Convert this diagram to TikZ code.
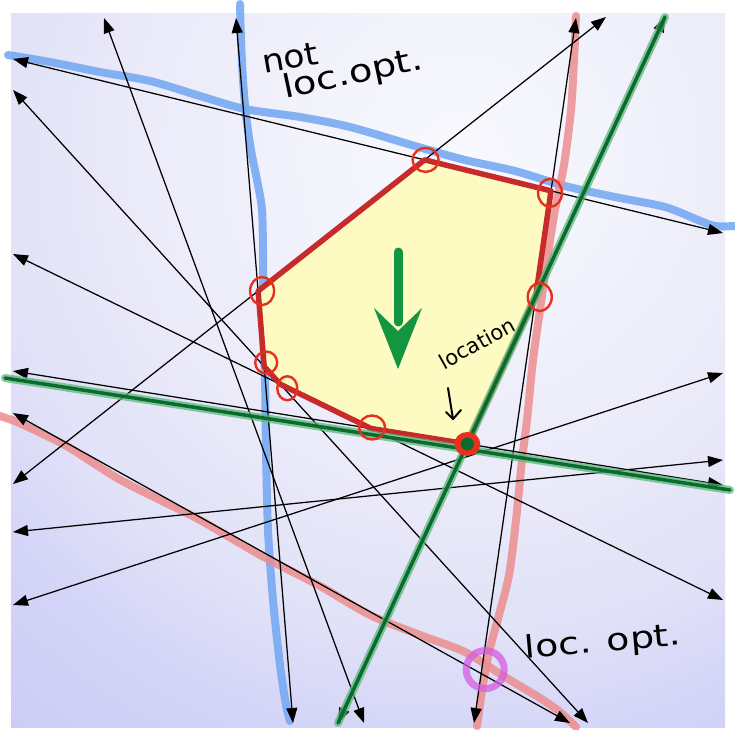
\documentclass[tikz,border=0pt]{standalone}
\usepackage{fontspec}
\newfontfamily\handfont{DejaVu Sans}
\usetikzlibrary{arrows.meta}
\definecolor{bgA}{HTML}{F8F8FE}
\definecolor{bgB}{HTML}{F3F3FC}
\definecolor{bgC}{HTML}{EAEAF9}
\definecolor{bgD}{HTML}{E1E1F8}
\definecolor{bgE}{HTML}{D6D6F8}
\definecolor{bgF}{HTML}{CACAF6}
\definecolor{polyfill}{HTML}{FDFBC2}
\definecolor{polyred}{HTML}{C62A2A}
\definecolor{circred}{HTML}{E8301E}
\definecolor{hblue}{HTML}{78AAF2}
\definecolor{hpink}{HTML}{EC8E8E}
\definecolor{gdark}{HTML}{0B6B2E}
\definecolor{glight}{HTML}{5DB87A}
\definecolor{garrow}{HTML}{13963F}
\definecolor{magc}{HTML}{D45CE0}
\pgfdeclareradialshading{bgshade}{\pgfpoint{0bp}{0bp}}{color(0bp)=(bgA); color(5bp)=(bgB); color(11bp)=(bgC); color(16bp)=(bgD); color(19bp)=(bgE); color(25bp)=(bgF); color(50bp)=(bgF)}
\begin{document}
\begin{tikzpicture}[x=1pt,y=-1pt,
  arr/.style={line width=1.25pt, black, arrows={Triangle[length=15pt,width=11pt]-Triangle[length=15pt,width=11pt]}},
  hlblue/.style={line width=8pt, hblue, opacity=0.9, line cap=round, line join=round},
  hlpink/.style={line width=8pt, hpink, opacity=0.85, line cap=round, line join=round},
  hlgreenout/.style={line width=8pt, glight, opacity=0.75, line cap=round},
  hlgreenin/.style={line width=3.5pt, gdark, line cap=round},
  polyfillstyle/.style={fill=polyfill},
  polyedge/.style={draw=polyred, line width=5.5pt, line join=round},
  vcirc/.style={draw=circred, line width=2.4pt},
  handtext/.style={inner sep=0pt, text=black}
]
\useasboundingbox (0,0) rectangle (735,729);
\fill[white] (0,0) rectangle (735,729);
\begin{scope}
  \clip (11,13) rectangle (725,727);
  \fill[bgF] (11,13) rectangle (725,727);
  \shade[shading=bgshade] (460,160) circle (750);
\end{scope}

% line end points
\coordinate (L1a) at (104,18);  \coordinate (L1b) at (364,723);
\coordinate (L2a) at (236,18);  \coordinate (L2b) at (293,723);
\coordinate (L3a) at (13,59);   \coordinate (L3b) at (723,233);
\coordinate (L4a) at (13,90);   \coordinate (L4b) at (588,723);
\coordinate (L5a) at (13,254);  \coordinate (L5b) at (723,600);
\coordinate (L6a) at (13,371);  \coordinate (L6b) at (723,485);
\coordinate (L7a) at (665,17);  \coordinate (L7b) at (338,723);
\coordinate (L8a) at (576,18);  \coordinate (L8b) at (474,723);
\coordinate (L9a) at (606,17);  \coordinate (L9b) at (13,484);
\coordinate (L10a) at (13,532); \coordinate (L10b) at (723,460);
\coordinate (L11a) at (13,605); \coordinate (L11b) at (723,373);
\coordinate (L12a) at (13,413); \coordinate (L12b) at (570,723);

% polygon vertices
\coordinate (V1) at (intersection of L9a--L9b and L3a--L3b);
\coordinate (V2) at (intersection of L3a--L3b and L8a--L8b);
\coordinate (V3) at (intersection of L8a--L8b and L7a--L7b);
\coordinate (V4) at (intersection of L7a--L7b and L6a--L6b);
\coordinate (V5) at (intersection of L6a--L6b and L5a--L5b);
\coordinate (V6) at (intersection of L5a--L5b and L4a--L4b);
\coordinate (V7) at (intersection of L4a--L4b and L2a--L2b);
\coordinate (V8) at (intersection of L2a--L2b and L9a--L9b);
\coordinate (LO) at (intersection of L12a--L12b and L8a--L8b);

% hand-drawn highlights (blue, pink)
\draw[hlblue] plot[smooth] coordinates {(8,55) (50,62) (100,72) (150,81) (200,96) (245,109) (300,117) (350,127) (415,146) (465,160) (515,171) (565,186) (615,197) (665,207) (698,220) (715,226) (735,226)};
\draw[hlblue] plot[smooth] coordinates {(240,4) (241,40) (243,80) (246,115) (251,150) (258,185) (262,210) (263,250) (263,290) (263,330) (265,380) (266,450) (268,530) (273,600) (280,665) (286,705) (290,721)};
\draw[hlpink] plot[smooth] coordinates {(576,16) (574,60) (571,110) (564,165) (555,210) (547,260) (540,310) (533,360) (527,420) (522,460) (516,520) (509,575) (499,615) (489,652) (482,690) (479,712) (477,726)};
\draw[hlpink] plot[smooth] coordinates {(0,416) (17,422) (45,435) (70,448) (117,478) (160,500) (200,520) (262,556) (320,586) (370,615) (420,635) (465,652) (505,677) (540,698) (560,712) (576,727)};

% feasible polygon fill
\fill[polyfillstyle] (V1) -- (V2) -- (V3) -- (V4) -- (V5) -- (V6) -- (V7) -- (V8) -- cycle;

% constraint lines
\foreach \i in {1,...,12} {\draw[arr] (L\i a) -- (L\i b);}

% feasible polygon edge
\draw[polyedge] (V1) -- (V2) -- (V3) -- (V4) -- (V5) -- (V6) -- (V7) -- (V8) -- cycle;

% green highlighted lines
\coordinate (G1a) at (5,378);  \coordinate (G1b) at (730,490);
\draw[hlgreenout] (G1a) -- (G1b);
\draw[hlgreenin] (G1a) -- (G1b);
\draw[hlgreenout] (L7b) -- (L7a);
\draw[hlgreenin] (L7b) -- (L7a);

% red circles at vertices
\draw[vcirc] ([shift={(1,0)}]V1) ellipse [x radius=13, y radius=12];
\draw[vcirc] ([shift={(-1,2)}]V2) ellipse [x radius=12, y radius=14];
\draw[vcirc] ([shift={(4,1)}]V3) ellipse [x radius=12, y radius=14];
\draw[vcirc] ([shift={(1,-1)}]V5) ellipse [x radius=13, y radius=12];
\draw[vcirc] ([shift={(7,4)}]V6) ellipse [x radius=10, y radius=12];
\draw[vcirc] ([shift={(2,-4)}]V7) ellipse [x radius=11, y radius=11];
\draw[vcirc] ([shift={(4,0)}]V8) ellipse [x radius=12, y radius=14];

% location marker
\fill[circred] (V4) ellipse [x radius=13, y radius=12];
\fill[gdark] (V4) circle (6.5);

% local optimum marker
\draw[magc, line width=7pt, opacity=0.75] ([shift={(4,-4)}]LO) circle (19);

% big green arrow
\coordinate (GAa) at (398,252);
\coordinate (GAb) at (398,322);
\draw[garrow, line width=9pt, line cap=round] (GAa) -- (GAb);
\fill[garrow] (374,308) -- (398,369) -- (422,308) -- (398,331) -- cycle;

% texts
\node[handtext, font=\handfont\fontsize{32}{36}\selectfont, rotate=10, xscale=1.08] (nt) at (290,58) {not};
\node[handtext, font=\handfont\fontsize{32}{36}\selectfont, rotate=12, xscale=1.2] (lo1) at (353,75) {loc.opt.};
\node[handtext, font=\handfont\fontsize{31}{36}\selectfont, rotate=5, xscale=1.22] (lo2) at (603,643) {loc. opt.};
\node[handtext, font=\handfont\fontsize{21}{24}\selectfont, rotate=29] (loc) at (477,343) {location};
\coordinate (la) at (448,388);
\coordinate (lb) at (453,419);
\draw[black, line width=2pt, line cap=round, line join=round] (la) -- (lb);
\draw[black, line width=2pt, line cap=round, line join=round] (446,412) -- (lb) -- (461,410);
\end{tikzpicture}
\end{document}
